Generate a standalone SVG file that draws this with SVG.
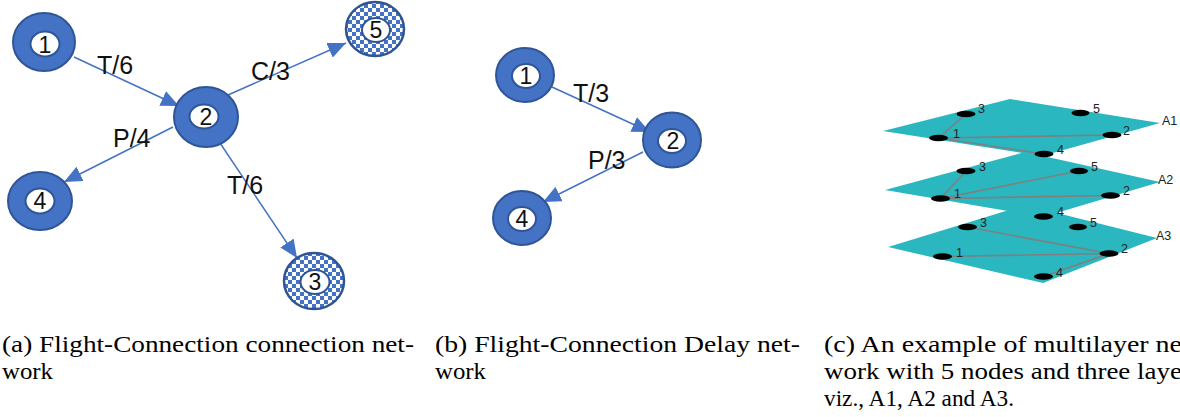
<svg xmlns="http://www.w3.org/2000/svg" width="1180" height="417" viewBox="0 0 1180 417">
<style>
.ring{fill:#4472C4;stroke:#2F5597;stroke-width:2}
.chk{fill:url(#chk);stroke:#2F5597;stroke-width:2.5}
.hole{fill:#fff;stroke:#2F5597;stroke-width:2}
.num{font-family:"Liberation Sans",Arial,sans-serif;font-size:23px;fill:#111;text-anchor:middle}
.elab{font-family:"Liberation Sans",Arial,sans-serif;font-size:25px;fill:#111}
.edge{stroke:#4472C4;stroke-width:1.5;fill:none;marker-end:url(#arr)}
.layer{fill:#2AB7C0}
.ml{stroke:#7f7f7f;stroke-width:1.6;fill:none}
.dot{fill:#000}
.mlab{font-family:"Liberation Sans",Arial,sans-serif;font-size:12.5px;fill:#222}
.cap{font-family:"Liberation Serif","Times New Roman",serif;font-size:23px;fill:#000}
</style>
<defs>
<pattern id="chk" width="8" height="8" patternUnits="userSpaceOnUse">
<rect width="8" height="8" fill="#fff"/>
<rect width="4" height="4" fill="#4472C4"/>
<rect x="4" y="4" width="4" height="4" fill="#4472C4"/>
</pattern>
<marker id="arr" markerUnits="userSpaceOnUse" markerWidth="20" markerHeight="16" refX="18" refY="8" orient="auto">
<path d="M0,0 L18,8 L0,16 z" fill="#4472C4"/>
</marker>
</defs>

<g id="connectors">
<line class="edge" x1="74" y1="57" x2="179" y2="106"/>
<line class="edge" x1="228" y1="95" x2="346" y2="43"/>
<line class="edge" x1="173" y1="127" x2="64" y2="182"/>
<line class="edge" x1="220" y1="143" x2="297" y2="258"/>
<line class="edge" x1="552" y1="87" x2="650" y2="132"/>
<line class="edge" x1="643" y1="152" x2="543" y2="202"/>
<text class="elab" x="97" y="74">T/6</text>
<text class="elab" x="251" y="80">C/3</text>
<text class="elab" x="113" y="147">P/4</text>
<text class="elab" x="227" y="194">T/6</text>
<text class="elab" x="573" y="102">T/3</text>
<text class="elab" x="588" y="169">P/3</text>
</g>

<g id="a-node-1"><ellipse class="ring" cx="44" cy="42" rx="31" ry="29"/><ellipse class="hole" cx="45" cy="44" rx="14.5" ry="12.5"/><text class="num" x="45" y="53">1</text></g>
<g id="a-node-2"><ellipse class="ring" cx="206" cy="117" rx="32" ry="30"/><ellipse class="hole" cx="204" cy="116.5" rx="14.5" ry="12"/><text class="num" x="206" y="125">2</text></g>
<g id="a-node-4"><ellipse class="ring" cx="40" cy="201" rx="32" ry="29"/><ellipse class="hole" cx="40" cy="201" rx="14.5" ry="12.5"/><text class="num" x="40" y="209">4</text></g>
<g id="a-node-5"><ellipse class="chk" cx="375" cy="29" rx="29" ry="27"/><ellipse class="hole" cx="376" cy="30" rx="14" ry="12"/><text class="num" x="376" y="38">5</text></g>
<g id="a-node-3"><ellipse class="chk" cx="314" cy="281" rx="30" ry="28"/><ellipse class="hole" cx="315" cy="282" rx="14.5" ry="12"/><text class="num" x="315" y="290">3</text></g>

<g id="b-node-1"><ellipse class="ring" cx="525" cy="75" rx="29" ry="27"/><ellipse class="hole" cx="526" cy="76" rx="14" ry="12"/><text class="num" x="526" y="84">1</text></g>
<g id="b-node-2"><ellipse class="ring" cx="672" cy="140" rx="29" ry="27.5"/><ellipse class="hole" cx="672" cy="141" rx="14" ry="12"/><text class="num" x="673" y="149">2</text></g>
<g id="b-node-4"><ellipse class="ring" cx="522" cy="218" rx="29" ry="27"/><ellipse class="hole" cx="522" cy="219" rx="14" ry="12"/><text class="num" x="522" y="227">4</text></g>

<g id="multilayer">
<polygon class="layer" points="888,247 1025,205 1157,238 1043,283"/>
<polygon class="layer" points="885,190 1025,152 1160,182 1043,217"/>
<polygon class="layer" points="883,131 1010,99 1160,123 1042,156"/>
<g id="ml-connectors">
<line class="ml" x1="938.5" y1="138" x2="966" y2="114"/>
<line class="ml" x1="938.5" y1="138" x2="1112" y2="135"/>
<line class="ml" x1="938.5" y1="138" x2="1044" y2="154"/>
<line class="ml" x1="940.5" y1="198.5" x2="966" y2="171"/>
<line class="ml" x1="940.5" y1="198.5" x2="1079" y2="171"/>
<line class="ml" x1="940.5" y1="198.5" x2="1110.5" y2="195.5"/>
<line class="ml" x1="967.5" y1="227" x2="1109" y2="253.5"/>
<line class="ml" x1="942.5" y1="256.5" x2="1109" y2="253.5"/>
<line class="ml" x1="1109" y1="253.5" x2="1043.5" y2="276.5"/>
</g>
<g id="A1-nodes">
<ellipse class="dot" cx="938.5" cy="138" rx="9.5" ry="3.2"/><text class="mlab" x="953" y="138">1</text>
<ellipse class="dot" cx="1112" cy="135" rx="9.5" ry="3.2"/><text class="mlab" x="1123" y="135">2</text>
<ellipse class="dot" cx="966" cy="114" rx="9.5" ry="3.2"/><text class="mlab" x="978" y="113">3</text>
<ellipse class="dot" cx="1044" cy="154" rx="9.5" ry="3.2"/><text class="mlab" x="1057" y="154">4</text>
<ellipse class="dot" cx="1080.5" cy="113" rx="9" ry="3.2"/><text class="mlab" x="1093" y="113">5</text>
<text class="mlab" x="1162" y="125">A1</text>
</g>
<g id="A2-nodes">
<ellipse class="dot" cx="940.5" cy="198.5" rx="9.5" ry="3.2"/><text class="mlab" x="954" y="198">1</text>
<ellipse class="dot" cx="1110.5" cy="195.5" rx="9.5" ry="3.2"/><text class="mlab" x="1123" y="195">2</text>
<ellipse class="dot" cx="966" cy="171" rx="9.5" ry="3.2"/><text class="mlab" x="979" y="171">3</text>
<ellipse class="dot" cx="1043.5" cy="216.5" rx="9.5" ry="3.2"/><text class="mlab" x="1057" y="216">4</text>
<ellipse class="dot" cx="1079" cy="171" rx="9" ry="3.2"/><text class="mlab" x="1091" y="171">5</text>
<text class="mlab" x="1158" y="184">A2</text>
</g>
<g id="A3-nodes">
<ellipse class="dot" cx="942.5" cy="256.5" rx="9.5" ry="3.2"/><text class="mlab" x="956" y="257">1</text>
<ellipse class="dot" cx="1109" cy="253.5" rx="9.5" ry="3.2"/><text class="mlab" x="1121" y="253">2</text>
<ellipse class="dot" cx="967.5" cy="227" rx="9.5" ry="3.2"/><text class="mlab" x="980" y="227">3</text>
<ellipse class="dot" cx="1043.5" cy="276.5" rx="9.5" ry="3.2"/><text class="mlab" x="1056" y="277">4</text>
<ellipse class="dot" cx="1078" cy="227" rx="9" ry="3.2"/><text class="mlab" x="1090" y="227">5</text>
<text class="mlab" x="1156" y="240">A3</text>
</g>
</g>

<g id="captions">
<text class="cap" x="2" y="352" textLength="412" lengthAdjust="spacingAndGlyphs">(a) Flight-Connection connection net-</text>
<text class="cap" x="2" y="379" textLength="51" lengthAdjust="spacingAndGlyphs">work</text>
<text class="cap" x="435" y="352" textLength="365" lengthAdjust="spacingAndGlyphs">(b) Flight-Connection Delay net-</text>
<text class="cap" x="435" y="379" textLength="51" lengthAdjust="spacingAndGlyphs">work</text>
<text class="cap" x="824" y="352" textLength="358" lengthAdjust="spacingAndGlyphs">(c) An example of multilayer ne</text>
<text class="cap" x="824" y="379" textLength="358" lengthAdjust="spacingAndGlyphs">work with 5 nodes and three laye</text>
<text class="cap" x="824" y="406" textLength="190" lengthAdjust="spacingAndGlyphs">viz., A1, A2 and A3.</text>
</g>
</svg>
